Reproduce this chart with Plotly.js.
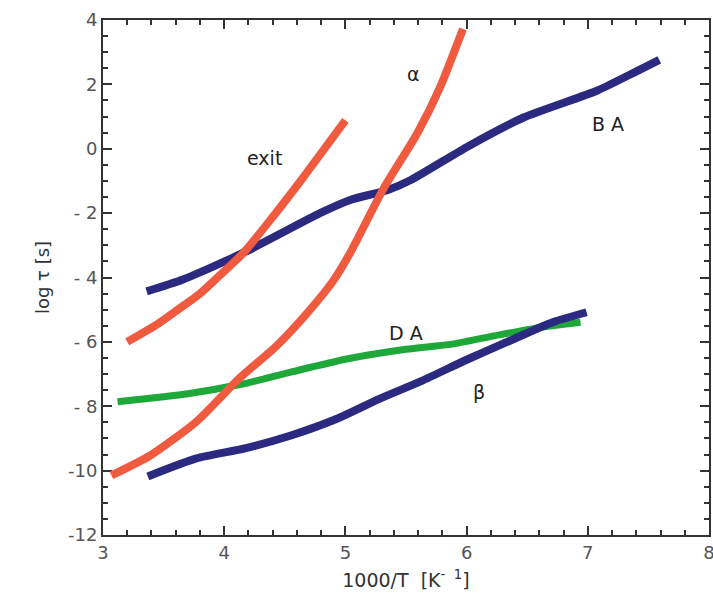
<!DOCTYPE html>
<html>
<head>
<meta charset="utf-8">
<script src="https://cdn.plot.ly/plotly-3.0.1.min.js"></script>
<style>
  html, body { margin: 0; padding: 0; background: #ffffff; overflow: hidden; }
  #wrap { position: relative; width: 720px; height: 613px; }
  #frame, #curves { position: absolute; left: 0; top: 0; width: 720px; height: 613px; }
</style>
</head>
<body>
<div id="wrap">
  <div id="frame"></div>
  <div id="curves"></div>
</div>
<script>
// Relaxation times vs inverse temperature
const exitX  = [3.20, 3.45, 3.61, 3.80, 3.95, 4.16, 4.40, 4.65, 5.00];
const exitY  = [-6.00, -5.45, -5.02, -4.50, -3.98, -3.23, -2.12, -0.90, 0.88];

const alphaX = [3.07, 3.39, 3.77, 4.12, 4.43, 4.69, 4.90, 5.04, 5.32, 5.59, 5.78, 5.97];
const alphaY = [-10.15, -9.53, -8.48, -7.15, -6.13, -5.08, -4.10, -3.23, -1.20, 0.46, 1.90, 3.72];

const baX    = [3.36, 3.66, 4.16, 4.79, 5.04, 5.35, 5.54, 6.00, 6.47, 7.08, 7.41, 7.59];
const baY    = [-4.43, -4.06, -3.23, -2.00, -1.59, -1.28, -0.97, 0.05, 0.97, 1.81, 2.42, 2.76];

const daX    = [3.12, 3.70, 4.15, 4.55, 5.00, 5.50, 5.88, 6.30, 6.61, 6.94];
const daY    = [-7.86, -7.61, -7.31, -6.94, -6.54, -6.23, -6.07, -5.76, -5.55, -5.39];

const betaX  = [3.37, 3.77, 4.17, 4.55, 4.93, 5.28, 5.63, 6.01, 6.39, 6.71, 6.99];
const betaY  = [-10.18, -9.62, -9.31, -8.91, -8.39, -7.77, -7.21, -6.54, -5.91, -5.39, -5.08];

const xTickVals = [3, 4, 5, 6, 7, 8];
const xTickText = ['3', '4', '5', '6', '7', '8'];
const yTickVals = [4, 2, 0, -2, -4, -6, -8, -10, -12];
const yTickText = ['4', '2', '0', '- 2', '- 4', '- 6', '- 8', '-10', '-12'];

// Curve labels
const labelText = ['exit', 'α', 'B A', 'D A', 'β'];
const labelX    = [4.33, 5.56, 7.17, 5.50, 6.10];
const labelY    = [-0.30, 2.33, 0.78, -5.72, -7.55];

const RED = '#f05a3e', NAVY = '#2c2a80', GREEN = '#1fa83a';
const FONT = 'DejaVu Sans, sans-serif';
const X_RANGE = [3, 8], Y_RANGE = [-12, 4];
// figure is slightly wider than the window so the last x label sits at the edge
const SIZE = { width: 720, height: 613 };
const MARGIN = { l: 103, r: 11, t: 20, b: 78 };

function curve(x, y, color, w) {
  return { x: x, y: y, type: 'scatter', mode: 'lines', showlegend: false,
           line: { color: color, width: w, shape: 'spline', smoothing: 0.6 } };
}

// Bottom layer: framed axes with the DA curve
const frameLayout = {
  width: SIZE.width, height: SIZE.height, margin: MARGIN,
  xaxis: {
    range: X_RANGE, tickmode: 'array', tickvals: xTickVals, ticktext: xTickText,
    showgrid: false, zeroline: false, showline: true, linecolor: '#333', linewidth: 2,
    mirror: 'ticks', ticks: 'inside', ticklen: 9, tickwidth: 2, tickcolor: '#333',
    minor: { dtick: 0.2, ticks: 'inside', ticklen: 5 },
    tickfont: { family: FONT, size: 18, color: '#555' },
    title: { text: '1000/T  [K<sup>-  1</sup>]', standoff: 12,
             font: { family: FONT, size: 19, color: '#333' } }
  },
  yaxis: {
    range: Y_RANGE, tickmode: 'array', tickvals: yTickVals, ticktext: yTickText,
    showgrid: false, zeroline: false, showline: true, linecolor: '#333', linewidth: 2,
    mirror: 'ticks', ticks: 'inside', ticklen: 9, tickwidth: 2, tickcolor: '#333',
    minor: { dtick: 0.5, ticks: 'inside', ticklen: 5 },
    tickfont: { family: FONT, size: 18, color: '#555' },
    title: { text: 'log τ [s]', standoff: 14,
             font: { family: FONT, size: 18, color: '#333' } }
  }
};

// Top layer: remaining curves and their labels on the same scales, transparent
const curveLayout = {
  width: SIZE.width, height: SIZE.height, margin: MARGIN,
  paper_bgcolor: 'rgba(0,0,0,0)', plot_bgcolor: 'rgba(0,0,0,0)',
  showlegend: false,
  xaxis: { range: X_RANGE, visible: false, fixedrange: true },
  yaxis: { range: Y_RANGE, visible: false, fixedrange: true },
  annotations: labelText.map((t, i) => ({
    x: labelX[i], y: labelY[i], text: t, showarrow: false,
    font: { family: FONT, size: 19, color: '#222' }
  }))
};

const config = { displayModeBar: false };

Plotly.newPlot('frame', [curve(daX, daY, GREEN, 7)], frameLayout, config);
Plotly.newPlot('curves', [
  curve(betaX, betaY, NAVY, 8),
  curve(baX, baY, NAVY, 8),
  curve(exitX, exitY, RED, 8),
  curve(alphaX, alphaY, RED, 8)
], curveLayout, config);
</script>
</body>
</html>
